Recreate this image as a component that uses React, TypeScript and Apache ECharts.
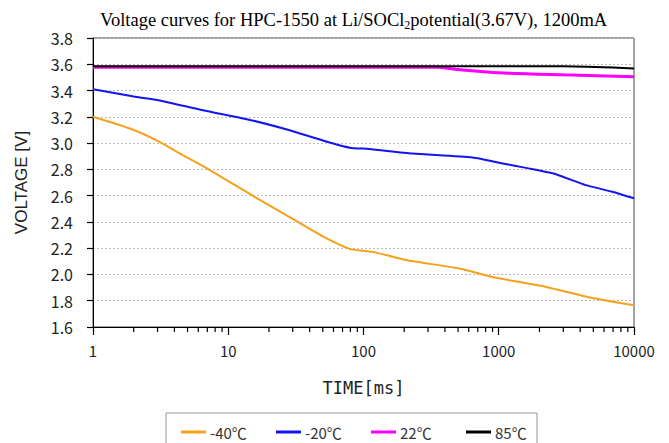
import React, { useEffect, useRef } from "react";
import * as echarts from "echarts";

const titleParts = ["Voltage curves for HPC-1550 at Li/SOCl", "2", "potential(3.67V), 1200mA"];
const seriesNames = ["-40℃", "-20℃", "22℃", "85℃"];
const seriesColors = ["#F7A11A", "#1414F0", "#FF00FF", "#000000"];

const minus40: [number, number][] = [
  [1, 3.2], [2, 3.1], [3.1, 3.01], [4.4, 2.92], [6.9, 2.81], [12.8, 2.645], [16, 2.585],
  [28, 2.44], [50, 2.29], [79, 2.195], [100, 2.18], [120, 2.17], [206, 2.11], [512, 2.045],
  [900, 1.98], [2240, 1.905], [4940, 1.82], [10000, 1.765],
];
const minus20: [number, number][] = [
  [1, 3.41], [2, 3.355], [3.1, 3.325], [6.5, 3.25], [14, 3.18], [28, 3.1], [50, 3.02],
  [79, 2.965], [110, 2.955], [230, 2.92], [640, 2.89], [1070, 2.845], [2500, 2.77],
  [4400, 2.68], [6900, 2.63], [10000, 2.58],
];
const plus22: [number, number][] = [
  [1, 3.577], [30, 3.578], [350, 3.578], [500, 3.56], [1000, 3.535], [3000, 3.52], [10000, 3.505],
];
const plus85: [number, number][] = [
  [1, 3.584], [3000, 3.584], [7000, 3.575], [10000, 3.568],
];

const xTickLabels = [1, 10, 100, 1000, 10000];
const xMinorTicks = [
  2, 3, 4, 5, 6, 7, 8, 9,
  20, 30, 40, 50, 60, 70, 80, 90,
  200, 300, 400, 500, 600, 700, 800, 900,
  2000, 3000, 4000, 5000, 6000, 7000, 8000, 9000,
];
const yMin = 1.6;
const yMax = 3.8;
const yStep = 0.2;

function measure(text: string, font: string): number {
  const c = document.createElement("canvas").getContext("2d");
  if (!c) return text.length * 8;
  c.font = font;
  return c.measureText(text).width;
}

export default function App() {
  const ref = useRef<HTMLDivElement>(null);
  useEffect(() => {
    if (!ref.current) return;
    const chart = echarts.init(ref.current, undefined, { renderer: "svg" });
    const allData = [minus40, minus20, plus22, plus85];
    const lineSeries = allData.map((d, i) => ({
      name: seriesNames[i],
      type: "line",
      data: d,
      showSymbol: false,
      smooth: 0.2,
      lineStyle: { color: seriesColors[i], width: i === 2 ? 3 : 2 },
      itemStyle: { color: seriesColors[i] },
      z: i === 3 ? 4 : 3,
    }));

    const titleFont = 18.5;
    const subFont = 12;
    const tx0 = 100;
    const ty = 20;
    const w1 = measure(titleParts[0], `${titleFont}px "Liberation Serif"`);
    const w2 = measure(titleParts[1], `${subFont}px "Liberation Serif"`);
    const titleGraphics: any[] = [
      {
        type: "text", x: tx0, y: ty, silent: true,
        style: { text: titleParts[0], fontFamily: "Liberation Serif", fontSize: titleFont, fill: "#000", verticalAlign: "middle", align: "left" },
      },
      {
        type: "text", x: tx0 + w1, y: ty + 5, silent: true,
        style: { text: titleParts[1], fontFamily: "Liberation Serif", fontSize: subFont, fill: "#000", verticalAlign: "middle", align: "left" },
      },
      {
        type: "text", x: tx0 + w1 + w2, y: ty, silent: true,
        style: { text: titleParts[2], fontFamily: "Liberation Serif", fontSize: titleFont, fill: "#000", verticalAlign: "middle", align: "left" },
      },
    ];

    const legendX0 = 181;
    const legendStep = 95;
    const legendY = 432;
    const legendGraphics: any[] = [
      {
        type: "rect",
        shape: { x: 166, y: 413, width: 371, height: 45 },
        style: { fill: "#fff", stroke: "#999", lineWidth: 1 },
        silent: true,
      },
    ];
    seriesNames.forEach((name, i) => {
      const x = legendX0 + i * legendStep;
      legendGraphics.push({
        type: "line",
        shape: { x1: x, y1: legendY, x2: x + 25, y2: legendY },
        style: { stroke: seriesColors[i], lineWidth: 3 },
        silent: true,
      });
      legendGraphics.push({
        type: "text",
        x: x + 29,
        y: legendY,
        style: {
          text: name,
          fontFamily: "Noto Sans CJK JP",
          fontSize: 15,
          fill: "#333",
          verticalAlign: "middle",
          align: "left",
        },
        silent: true,
      });
    });

    chart.setOption({
      animation: false,
      graphic: [...titleGraphics, ...legendGraphics],
      grid: {
        left: 93,
        right: 35,
        top: 38,
        bottom: 116,
        show: true,
        borderColor: "#444",
        borderWidth: 1,
      },
      xAxis: {
        type: "log",
        logBase: 10,
        min: xTickLabels[0],
        max: xTickLabels[xTickLabels.length - 1],
        name: "TIME[ms]",
        nameLocation: "middle",
        nameGap: 52,
        nameTextStyle: { fontFamily: "DejaVu Sans Mono", fontSize: 17, color: "#222" },
        axisLine: { show: true, lineStyle: { color: "#000", width: 1 } },
        axisTick: { show: true, length: 8, lineStyle: { color: "#000", width: 1.2 } },
        axisLabel: {
          fontFamily: "Noto Sans CJK JP",
          fontSize: 15,
          color: "#222",
          margin: 16,
          formatter: (v: number) => String(v),
        },
        splitLine: { show: false },
      },
      yAxis: {
        type: "value",
        min: yMin,
        max: yMax,
        interval: yStep,
        name: "VOLTAGE [V]",
        nameLocation: "middle",
        nameRotate: 90,
        nameGap: 63,
        nameTextStyle: { fontFamily: "Liberation Sans", fontSize: 17, color: "#222" },
        axisLine: { show: true, lineStyle: { color: "#000" } },
        axisTick: { show: true, length: 6, lineStyle: { color: "#000", width: 1.2 } },
        axisLabel: {
          fontFamily: "Noto Sans CJK JP",
          fontSize: 16,
          color: "#222",
          margin: 20,
          formatter: (v: number) => v.toFixed(1),
        },
        splitLine: { show: true, lineStyle: { color: "#bbb", type: [2, 2], width: 1 } },
      },
      series: [
        ...lineSeries,
        {
          type: "custom",
          silent: true,
          clip: false,
          data: xMinorTicks.map((v) => [v, yMin]),
          renderItem: (_p: any, api: any) => {
            const pt = api.coord([api.value(0), yMin]);
            return {
              type: "line",
              shape: { x1: pt[0], y1: pt[1], x2: pt[0], y2: pt[1] + 5 },
              style: { stroke: "#000", lineWidth: 1.2 },
            };
          },
          z: 5,
        },
      ],
    });
    return () => chart.dispose();
  }, []);
  return (
    <div
      ref={ref}
      style={{ position: "fixed", left: 0, top: 0, width: 669, height: 443, background: "#fff" }}
    />
  );
}
